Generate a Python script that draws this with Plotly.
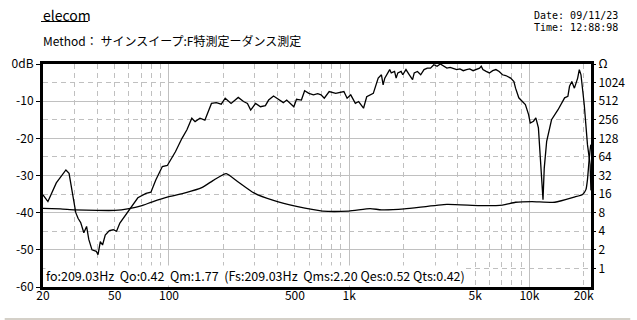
import math
import plotly.graph_objects as go

# ---------------- data ----------------
resp_freq = [20, 21.3, 23.7, 25.7, 26.8, 27.9, 29.0, 30.4, 31.3, 32.4,
             33.7, 34.9, 35.9, 37.4, 39.5, 40.4, 41.6, 42.8, 44.3, 46.7,
             49.1, 51.2, 53.4, 56.9, 60.6, 63.9, 67.2, 74.6, 79.4, 84.5,
             91.9, 97.9, 108.6, 118.1, 125.8, 133.9, 139.6, 148.6, 158.2, 172.1,
             183.2, 195.0, 205.1, 221.1, 242.3, 259.3, 272.6, 284.1, 302.4, 322.0,
             342.8, 357.3, 380.4, 397.0, 413.7, 431.2, 450.0, 469.1, 493.1, 510.1,
             543.1, 566.0, 597.4, 633.7, 668.7, 698.0, 727.5, 774.5, 842.3, 934.6,
             973.9, 1020, 1082, 1128, 1201, 1251, 1361, 1449, 1510, 1543,
             1576, 1678, 1712, 1786, 1822, 1862, 1941, 1983, 2066, 2157,
             2247, 2296, 2392, 2494, 2602, 2713, 2826, 2950, 3074, 3204,
             3344, 3485, 3632, 3790, 3951, 4117, 4297, 4477, 4667, 4870,
             5076, 5290, 5404, 5520, 5754, 5997, 6258, 6521, 6797, 7093,
             7391, 7870, 8204, 8379, 8735, 9115, 9498, 9899, 10110, 10540,
             10860, 11220, 11610, 11900, 12090, 12470, 13270, 14420, 15680, 16350,
             16700, 17190, 17770, 18530, 18920, 19330, 20150, 21000, 21730, 21950]
resp_db = [-35.2, -37, -32, -29.8, -28.5, -29.4, -34.7, -40, -41.5, -42.7,
           -45.4, -43.7, -47.2, -50, -50.4, -51.3, -47.8, -48.7, -46, -44.8,
           -44.6, -45, -42.8, -41, -39.2, -37.4, -36, -34.8, -34.5, -31.2,
           -27.6, -27.3, -23.6, -20, -17.7, -14.6, -15.5, -14.6, -15.1, -10.6,
           -10.4, -10.8, -9.2, -10.6, -9, -10.1, -10.6, -12.4, -10.6, -11.5,
           -11.2, -9.7, -8.6, -9.2, -9.7, -10.4, -9.7, -10.6, -11.5, -9.5,
           -9.7, -7.2, -7.9, -8.3, -8, -8.3, -9.2, -7.4, -7.9, -7.4,
           -9.2, -8.3, -10.6, -10.1, -11.9, -8.8, -7.9, -3.8, -2.9, -5.6,
           -3.8, -1.5, -2.4, -2.0, -3.8, -2.4, -2.0, -2.9, -1.5, -2.9,
           -4.2, -2.4, -2.0, -2.9, -1.5, -1.1, -1.1, -0.2, -0.6, 0.0,
           -0.6, -1.1, -0.9, -1.1, -1.5, -1.3, -1.8, -1.5, -1.3, -1.8,
           -1.5, -1.1, -0.6, -1.5, -2.0, -2.4, -1.8, -1.5, -2.0, -2.9,
           -3.1, -3.8, -4.7, -6.5, -9.1, -10, -10.9, -13.6, -15.9, -15.4,
           -14.5, -17.2, -27.1, -36.5, -28, -20.8, -15, -12.3, -9.1, -8.7,
           -6.0, -4.7, -6.5, -3.8, -1.5, -2.9, -10.9, -21.7, -27.1, -34]

imp_freq = [20, 25, 30, 40, 50, 60, 70, 81, 100, 123,
            152, 179, 208, 240, 296, 380, 510, 712, 995, 1306,
            1510, 2025, 3485, 5290, 7093, 8379, 10330, 13840, 17770, 19720,
            20590, 21000, 21460, 21900]
imp_ohm = [9.4, 9.2, 8.9, 8.7, 8.7, 9.3, 10.3, 12.0, 14.5, 16.7,
           20.3, 27.5, 34.3, 25.6, 16.7, 12.6, 10.1, 8.5, 8.5, 9.3,
           8.9, 9.2, 10.9, 10.4, 10.6, 11.8, 12.1, 11.8, 14.3, 15.8,
           18.9, 27.5, 58, 101]

x_label_vals = [20, 50, 100, 500, 1000, 5000, 10000, 20000]
x_label_text = ["20", "50", "100", "500", "1k", "5k", "10k", "20k"]
x_dash_grid = [30, 40, 50, 60, 70, 80, 90, 200, 300, 400, 500, 600, 700, 800, 900,
               2000, 3000, 4000, 5000, 6000, 7000, 8000, 9000, 20000]
x_solid_grid = [100, 1000, 10000]
db_vals = [0, -10, -20, -30, -40, -50, -60]
db_text = ["0dB", "-10", "-20", "-30", "-40", "-50", "-60"]
db_dash_grid = [-5, -15, -25, -35, -45, -55]
ohm_vals = [1, 2, 4, 8, 16, 32, 64, 128, 256, 512, 1024, 2048]
ohm_text = ["1", "2", "4", "8", "16", "32", "64", "128", "256", "512", "1024", "Ω"]

title_text = "elecom"
method_text = "Method： サインスイープ:F特測定ーダンス測定"
date_text = "Date: 09/11/23"
time_text = "Time: 12:88:98"
param_text = "fo:209.03Hz  Qo:0.42  Qm:1.77  (Fs:209.03Hz  Qms:2.20 Qes:0.52 Qts:0.42)"

# ---------------- figure ----------------
FONT = "Noto Sans CJK JP, DejaVu Sans, sans-serif"
MONO = "DejaVu Sans Mono, monospace"
GRID = "#c0c0c0"
W, H = 637, 320
L, R, T, B = 39, 40, 64, 33
pw, ph = W - L - R, H - T - B

def px(X):
    return (X - L) / pw

def py(Y):
    return (H - B - Y) / ph

x_range = [math.log10(20), math.log10(21970)]

fig = go.Figure()
fig.add_trace(go.Scatter(x=resp_freq, y=resp_db, mode="lines",
                         line=dict(color="black", width=1.3),
                         xaxis="x", yaxis="y", showlegend=False, hoverinfo="skip"))
fig.add_trace(go.Scatter(x=imp_freq, y=imp_ohm, mode="lines",
                         line=dict(color="black", width=1.3, shape="spline", smoothing=0.5),
                         xaxis="x2", yaxis="y2", showlegend=False, hoverinfo="skip"))

fig.update_layout(
    width=W, height=H,
    margin=dict(l=L, r=R, t=T, b=B, pad=0),
    paper_bgcolor="white", plot_bgcolor="white",
    font=dict(family=FONT, size=12, color="black"),
    xaxis=dict(type="log", range=x_range, tickmode="array", tickvals=x_dash_grid,
               showticklabels=False, ticks="", showgrid=True, gridcolor=GRID,
               griddash="5px,4px", gridwidth=1,
               minor=dict(tickmode="array", tickvals=x_solid_grid, showgrid=True,
                          gridcolor=GRID, griddash="solid", gridwidth=1, ticks=""),
               showline=True, linecolor="black", linewidth=3, mirror=True,
               zeroline=False, fixedrange=True),
    xaxis2=dict(type="log", range=x_range, overlaying="x", anchor="y", side="bottom",
                tickmode="array", tickvals=x_label_vals, ticktext=x_label_text,
                ticks="", showgrid=False, showline=False, zeroline=False,
                tickfont=dict(family=FONT, size=12), ticklabelstandoff=0),
    yaxis=dict(range=[-60, 0], tickmode="array", tickvals=db_vals, ticktext=db_text,
               ticks="outside", ticklen=4, tickwidth=1, tickcolor="black",
               showgrid=True, gridcolor=GRID, gridwidth=1,
               minor=dict(tickmode="array", tickvals=db_dash_grid, showgrid=True,
                          gridcolor=GRID, griddash="5px,4px", gridwidth=1, ticks=""),
               showline=True, linecolor="black", linewidth=3, mirror=True,
               zeroline=False, tickfont=dict(family=FONT, size=12)),
    yaxis2=dict(type="log", range=[math.log10(0.5), math.log10(2048)],
                overlaying="y", side="right", anchor="x",
                tickmode="array", tickvals=ohm_vals, ticktext=ohm_text,
                ticks="outside", ticklen=4, tickwidth=1, tickcolor="black",
                showgrid=False, showline=False, zeroline=False,
                tickfont=dict(family=FONT, size=12)),
)

ann = [
    dict(text=title_text, x=px(37), y=py(15), xanchor="left", yanchor="middle",
         font=dict(family=FONT, size=14)),
    dict(text=method_text, x=px(37), y=py(41), xanchor="left", yanchor="middle",
         font=dict(family=FONT, size=12)),
    dict(text=date_text, x=px(537), y=py(15.5), xanchor="left", yanchor="middle",
         font=dict(family=MONO, size=10)),
    dict(text=time_text, x=px(537), y=py(27.5), xanchor="left", yanchor="middle",
         font=dict(family=MONO, size=10)),
    dict(text=param_text, x=px(41), y=py(275.5), xanchor="left", yanchor="middle",
         bgcolor="white", borderpad=0, font=dict(family=FONT, size=12.5)),
]
for a in ann:
    a.update(xref="paper", yref="paper", showarrow=False)
fig.update_layout(annotations=ann)

fig.update_layout(shapes=[
    dict(type="line", xref="paper", yref="paper", x0=px(37), x1=px(85),
         y0=py(21.5), y1=py(21.5), line=dict(color="black", width=1)),
    dict(type="rect", xref="paper", yref="paper", x0=px(0), x1=px(W),
         y0=py(320), y1=py(318), line=dict(width=0), fillcolor="#d4d0c8", layer="below"),
])

fig.write_html("out.html", config={"displayModeBar": False})
